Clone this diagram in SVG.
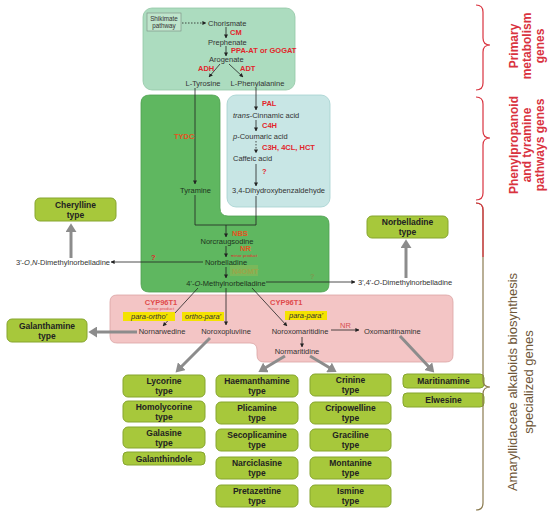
<svg xmlns="http://www.w3.org/2000/svg" width="550" height="514" viewBox="0 0 550 514">
<defs>
<style>
text{font-family:"Liberation Sans",Arial,sans-serif;}
.c{font-size:7.5px;fill:#333;}
.m{text-anchor:middle;}
.r{font-size:7.5px;font-weight:bold;fill:#e2252b;}
.o{font-size:7.5px;font-weight:bold;fill:#e4541e;}
.b{font-size:8.5px;font-weight:bold;fill:#222;text-anchor:middle;}
.bx{fill:#a7c83b;stroke:#86a52e;stroke-width:1;}
.ln{stroke:#222;stroke-width:0.8;fill:none;}
.dl{stroke:#222;stroke-width:0.8;fill:none;stroke-dasharray:1.5 1.5;}
.ga{stroke:#8c8c8c;stroke-width:3;fill:none;}
.hl{fill:#f4e200;}
.it{font-size:7.5px;font-style:italic;fill:#333;text-anchor:middle;}
</style>
<marker id="ah" viewBox="0 0 4 4" markerWidth="4" markerHeight="4" refX="3.6" refY="2" orient="auto" markerUnits="userSpaceOnUse"><path d="M0,0 L4,2 L0,4 z" fill="#222"/></marker>
<marker id="gh" viewBox="0 0 8 10" markerWidth="9" markerHeight="11" refX="1" refY="5" orient="auto" markerUnits="userSpaceOnUse"><path d="M0,0 L8,5 L0,10 z" fill="#8c8c8c"/></marker>
</defs>
<rect width="550" height="514" fill="#fff"/>

<g id="regions">
<rect x="143" y="8" width="152" height="82" rx="9" fill="#acdcbf" stroke="#93c6a6" stroke-width="0.8"/>
<path d="M150 95 H212 Q220 95 220 103 V208 Q220 216 228 216 H321 Q329 216 329 224 V284 Q329 292 321 292 H149 Q141 292 141 284 V103 Q141 95 150 95 Z" fill="#5fb760" stroke="#4f9f50" stroke-width="0.8"/>
<rect x="227" y="95" width="103" height="112" rx="9" fill="#c8e6e5" stroke="#a3d0cf" stroke-width="0.8"/>
<path d="M117 295 H446 Q453 295 453 302 V355 Q453 362 446 362 H264 Q257 362 257 355 V350 Q257 343 250 343 H117 Q110 343 110 336 V302 Q110 295 117 295 Z" fill="#f3c5c5" stroke="#dba3a3" stroke-width="0.8"/>
<rect x="230" y="265" width="28" height="11" fill="#79b85a"/>
</g>

<g id="connectors">
<line class="dl" x1="182" y1="23" x2="206" y2="23" marker-end="url(#ah)"/>
<line class="ln" x1="226" y1="27" x2="226" y2="38" marker-end="url(#ah)"/>
<line class="ln" x1="226" y1="46" x2="226" y2="56" marker-end="url(#ah)"/>
<line class="ln" x1="220" y1="64" x2="209" y2="77" marker-end="url(#ah)"/>
<line class="ln" x1="229" y1="64" x2="243" y2="77" marker-end="url(#ah)"/>
<line class="ln" x1="195" y1="88" x2="195" y2="184" marker-end="url(#ah)"/>
<line class="ln" x1="256" y1="88" x2="256" y2="110" marker-end="url(#ah)"/>
<line class="ln" x1="256" y1="120" x2="256" y2="131" marker-end="url(#ah)"/>
<line class="dl" x1="256" y1="141" x2="256" y2="153" marker-end="url(#ah)"/>
<line class="ln" x1="256" y1="164" x2="256" y2="186" marker-end="url(#ah)"/>
<polyline class="ln" points="195,195 195,225 256,225 256,196"/>
<line class="ln" x1="226" y1="225" x2="226" y2="237" marker-end="url(#ah)"/>
<line class="ln" x1="226" y1="246" x2="226" y2="257" marker-end="url(#ah)"/>
<line class="ln" x1="203" y1="262" x2="111" y2="262" marker-end="url(#ah)"/>
<line class="ln" x1="226" y1="267" x2="226" y2="278" marker-end="url(#ah)"/>
<line class="ln" x1="266" y1="282" x2="355" y2="282" marker-end="url(#ah)"/>
<line class="ln" x1="198" y1="288" x2="163" y2="326" marker-end="url(#ah)"/>
<line class="ln" x1="226" y1="288" x2="226" y2="325" marker-end="url(#ah)"/>
<line class="ln" x1="252" y1="288" x2="287" y2="326" marker-end="url(#ah)"/>
<line class="ln" x1="331" y1="330" x2="359" y2="330" marker-end="url(#ah)"/>
<line class="ln" x1="302" y1="337" x2="302" y2="347" marker-end="url(#ah)"/>
<line class="ga" x1="71" y1="258" x2="71" y2="231" marker-end="url(#gh)"/>
<line class="ga" x1="406" y1="278" x2="406" y2="247" marker-end="url(#gh)"/>
<line class="ga" x1="137" y1="332" x2="96" y2="332" marker-end="url(#gh)"/>
<line class="ga" x1="210" y1="338" x2="181" y2="367" marker-end="url(#gh)"/>
<line class="ga" x1="285" y1="356" x2="265" y2="368" marker-end="url(#gh)"/>
<line class="ga" x1="310" y1="356" x2="330" y2="368" marker-end="url(#gh)"/>
<line class="ga" x1="400" y1="336" x2="429" y2="367" marker-end="url(#gh)"/>
</g>

<g id="shikimate">
<rect x="147" y="13" width="34" height="18" fill="#bfe5cc" stroke="#7a8a80" stroke-width="0.6"/>
<text class="c m" x="164" y="20.5" style="font-size:6.3px">Shikimate</text>
<text class="c m" x="164" y="28" style="font-size:6.3px">pathway</text>
</g>
<g id="chorismate"><text class="c" x="208" y="25.5">Chorismate</text></g>
<text class="r" x="230" y="35">CM</text>
<g id="prephenate"><text class="c" x="208" y="44.5">Prephenate</text></g>
<text class="r" x="231" y="53">PPA-AT or GOGAT</text>
<g id="arogenate"><text class="c" x="209" y="62">Arogenate</text></g>
<text class="r" x="198" y="71">ADH</text>
<text class="r" x="240" y="71">ADT</text>
<g id="tyrosine"><text class="c m" x="203" y="86">L-Tyrosine</text></g>
<g id="phenylalanine"><text class="c m" x="257.5" y="86">L-Phenylalanine</text></g>

<text class="r" x="262" y="105.5">PAL</text>
<g id="cinnamic"><text class="c" x="233" y="117.5"><tspan font-style="italic">trans</tspan>-Cinnamic acid</text></g>
<text class="r" x="262" y="128">C4H</text>
<g id="coumaric"><text class="c" x="233" y="138.5"><tspan font-style="italic">p</tspan>-Coumaric acid</text></g>
<text class="r" x="262" y="150">C3H, 4CL, HCT</text>
<g id="caffeic"><text class="c" x="233" y="160.5">Caffeic acid</text></g>
<text class="r" x="262" y="174">?</text>
<g id="dhba"><text class="c" x="232" y="192.5">3,4-Dihydroxybenzaldehyde</text></g>
<text class="o" x="174" y="139">TYDC</text>
<g id="tyramine"><text class="c m" x="195.5" y="192.5" style="fill:#1d331d">Tyramine</text></g>

<text class="o" x="232" y="235.5">NBS</text>
<g id="norcraugsodine"><text class="c m" x="227" y="243.5" style="fill:#1d331d">Norcraugsodine</text></g>
<text class="o" x="240" y="251">NR</text>
<text x="231" y="256.5" style="font-size:4.3px;fill:#e2252b">minor product</text>
<g id="norbelladine"><text class="c m" x="226" y="264.5" style="fill:#1d331d">Norbelladine</text></g>
<text class="r" x="151" y="260">?</text>
<g id="dimethylON"><text class="c" x="16" y="264.5">3'-<tspan font-style="italic">O</tspan>,<tspan font-style="italic">N</tspan>-Dimethylnorbelladine</text></g>
<text x="232" y="273.5" style="font-size:7.5px;font-weight:bold;fill:#9aa54a">N4OMT</text>
<g id="methylnorbelladine"><text class="c m" x="226" y="285.5" style="fill:#1d331d">4'-<tspan font-style="italic">O</tspan>-Methylnorbelladine</text></g>
<text x="310" y="279" style="font-size:7.5px;font-weight:bold;fill:#7c9a50">?</text>
<g id="dimethyl34"><text class="c" x="358" y="285">3',4'-<tspan font-style="italic">O</tspan>-Dimethylnorbelladine</text></g>

<g id="cherylline"><rect class="bx" x="35" y="198" width="81" height="23" rx="5"/><text class="b" x="75.5" y="207.5">Cherylline</text><text class="b" x="75.5" y="217.5">type</text></g>
<g id="norbelladinetype"><rect class="bx" x="367" y="216" width="81" height="22" rx="5"/><text class="b" x="407.5" y="225">Norbelladine</text><text class="b" x="407.5" y="235">type</text></g>

<text class="r m" x="161" y="305" style="fill:#e04b4b">CYP96T1</text>
<text class="m" x="161" y="310" style="font-size:4.3px;fill:#e04b4b">minor product</text>
<rect class="hl" x="123" y="312" width="52" height="9"/>
<text class="it" x="149" y="319">para-ortho'</text>
<rect class="hl" x="182" y="312" width="42" height="9"/>
<text class="it" x="203" y="319">ortho-para'</text>
<text class="r" x="270" y="305" style="fill:#e04b4b">CYP96T1</text>
<rect class="hl" x="285" y="311" width="42" height="9"/>
<text class="it" x="306" y="318">para-para'</text>
<g id="nornarwedine"><text class="c m" x="162" y="334">Nornarwedine</text></g>
<g id="noroxopluviine"><text class="c m" x="226" y="334">Noroxopluviine</text></g>
<g id="noroxomaritidine"><text class="c m" x="300" y="334">Noroxomaritidine</text></g>
<text class="r" x="340" y="328" style="fill:#d65050;font-weight:normal">NR</text>
<g id="oxomaritinamine"><text class="c" x="364" y="334">Oxomaritinamine</text></g>
<g id="normaritidine"><text class="c m" x="297" y="354">Normaritidine</text></g>

<g id="galanthamine"><rect class="bx" x="7" y="319" width="80" height="23" rx="5"/><text class="b" x="47" y="328.5">Galanthamine</text><text class="b" x="47" y="338.5">type</text></g>

<g id="lycorine"><rect class="bx" x="123" y="375" width="82" height="22" rx="5"/><text class="b" x="164" y="384">Lycorine</text><text class="b" x="164" y="394">type</text></g>
<g id="homolycorine"><rect class="bx" x="123" y="401" width="82" height="21" rx="5"/><text class="b" x="164" y="409.5">Homolycorine</text><text class="b" x="164" y="419.5">type</text></g>
<g id="galasine"><rect class="bx" x="123" y="427" width="82" height="21" rx="5"/><text class="b" x="164" y="435.5">Galasine</text><text class="b" x="164" y="445.5">type</text></g>
<g id="galanthindole"><rect class="bx" x="123" y="452" width="82" height="13" rx="4"/><text class="b" x="164" y="461.5">Galanthindole</text></g>

<g id="haemanthamine"><rect class="bx" x="216" y="375" width="82" height="22" rx="5"/><text class="b" x="257" y="384">Haemanthamine</text><text class="b" x="257" y="394">type</text></g>
<g id="plicamine"><rect class="bx" x="216" y="402" width="82" height="22" rx="5"/><text class="b" x="257" y="411">Plicamine</text><text class="b" x="257" y="421">type</text></g>
<g id="secoplicamine"><rect class="bx" x="216" y="429" width="82" height="22" rx="5"/><text class="b" x="257" y="438">Secoplicamine</text><text class="b" x="257" y="448">type</text></g>
<g id="narciclasine"><rect class="bx" x="216" y="457" width="82" height="22" rx="5"/><text class="b" x="257" y="466">Narciclasine</text><text class="b" x="257" y="476">type</text></g>
<g id="pretazettine"><rect class="bx" x="216" y="485" width="82" height="22" rx="5"/><text class="b" x="257" y="494">Pretazettine</text><text class="b" x="257" y="504">type</text></g>

<g id="crinine"><rect class="bx" x="310" y="374" width="81" height="22" rx="5"/><text class="b" x="350.5" y="383">Crinine</text><text class="b" x="350.5" y="393">type</text></g>
<g id="cripowelline"><rect class="bx" x="310" y="402" width="81" height="22" rx="5"/><text class="b" x="350.5" y="411">Cripowelline</text><text class="b" x="350.5" y="421">type</text></g>
<g id="graciline"><rect class="bx" x="310" y="429" width="81" height="22" rx="5"/><text class="b" x="350.5" y="438">Graciline</text><text class="b" x="350.5" y="448">type</text></g>
<g id="montanine"><rect class="bx" x="310" y="457" width="81" height="22" rx="5"/><text class="b" x="350.5" y="466">Montanine</text><text class="b" x="350.5" y="476">type</text></g>
<g id="ismine"><rect class="bx" x="310" y="485" width="81" height="22" rx="5"/><text class="b" x="350.5" y="494">Ismine</text><text class="b" x="350.5" y="504">type</text></g>

<g id="maritinamine"><rect class="bx" x="403" y="374" width="81" height="14" rx="4"/><text class="b" x="443.5" y="384">Maritinamine</text></g>
<g id="elwesine"><rect class="bx" x="403" y="393" width="81" height="14" rx="4"/><text class="b" x="443.5" y="403">Elwesine</text></g>

<g id="braces" fill="none" stroke-width="1.2">
<path d="M476 5 Q483 5 483 12 V38 Q483 45 490 45 Q483 45 483 52 V83 Q483 90 476 90" stroke="#d9333f"/>
<path d="M476 97 Q483 97 483 104 V131 Q483 138 490 138 Q483 138 483 145 V193 Q483 200 476 200" stroke="#d9333f"/>
<path d="M476 203 Q483 203 483 210 V380 Q483 387 490 387 Q483 387 483 394 V503 Q483 510 476 510" stroke="#8b7b50"/>
<path d="M476 203 Q483 203 483 210 V257" stroke="#d9333f"/>
</g>
<g id="labels" style="font-size:12px;font-weight:bold;fill:#d9333f;text-anchor:middle">
<g transform="translate(0,46) rotate(-90)">
<text x="0" y="518">Primary</text><text x="0" y="531">metabolism</text><text x="0" y="544">genes</text>
</g>
<g transform="translate(0,145) rotate(-90)">
<text x="0" y="518">Phenylpropanoid</text><text x="0" y="531">and tyramine</text><text x="0" y="544">pathways genes</text>
</g>
<g transform="translate(0,382) rotate(-90)" style="font-weight:normal;fill:#6e5638;font-size:13px">
<text x="0" y="517">Amaryllidaceae alkaloids biosynthesis</text><text x="0" y="533">specialized genes</text>
</g>
</g>
</svg>
